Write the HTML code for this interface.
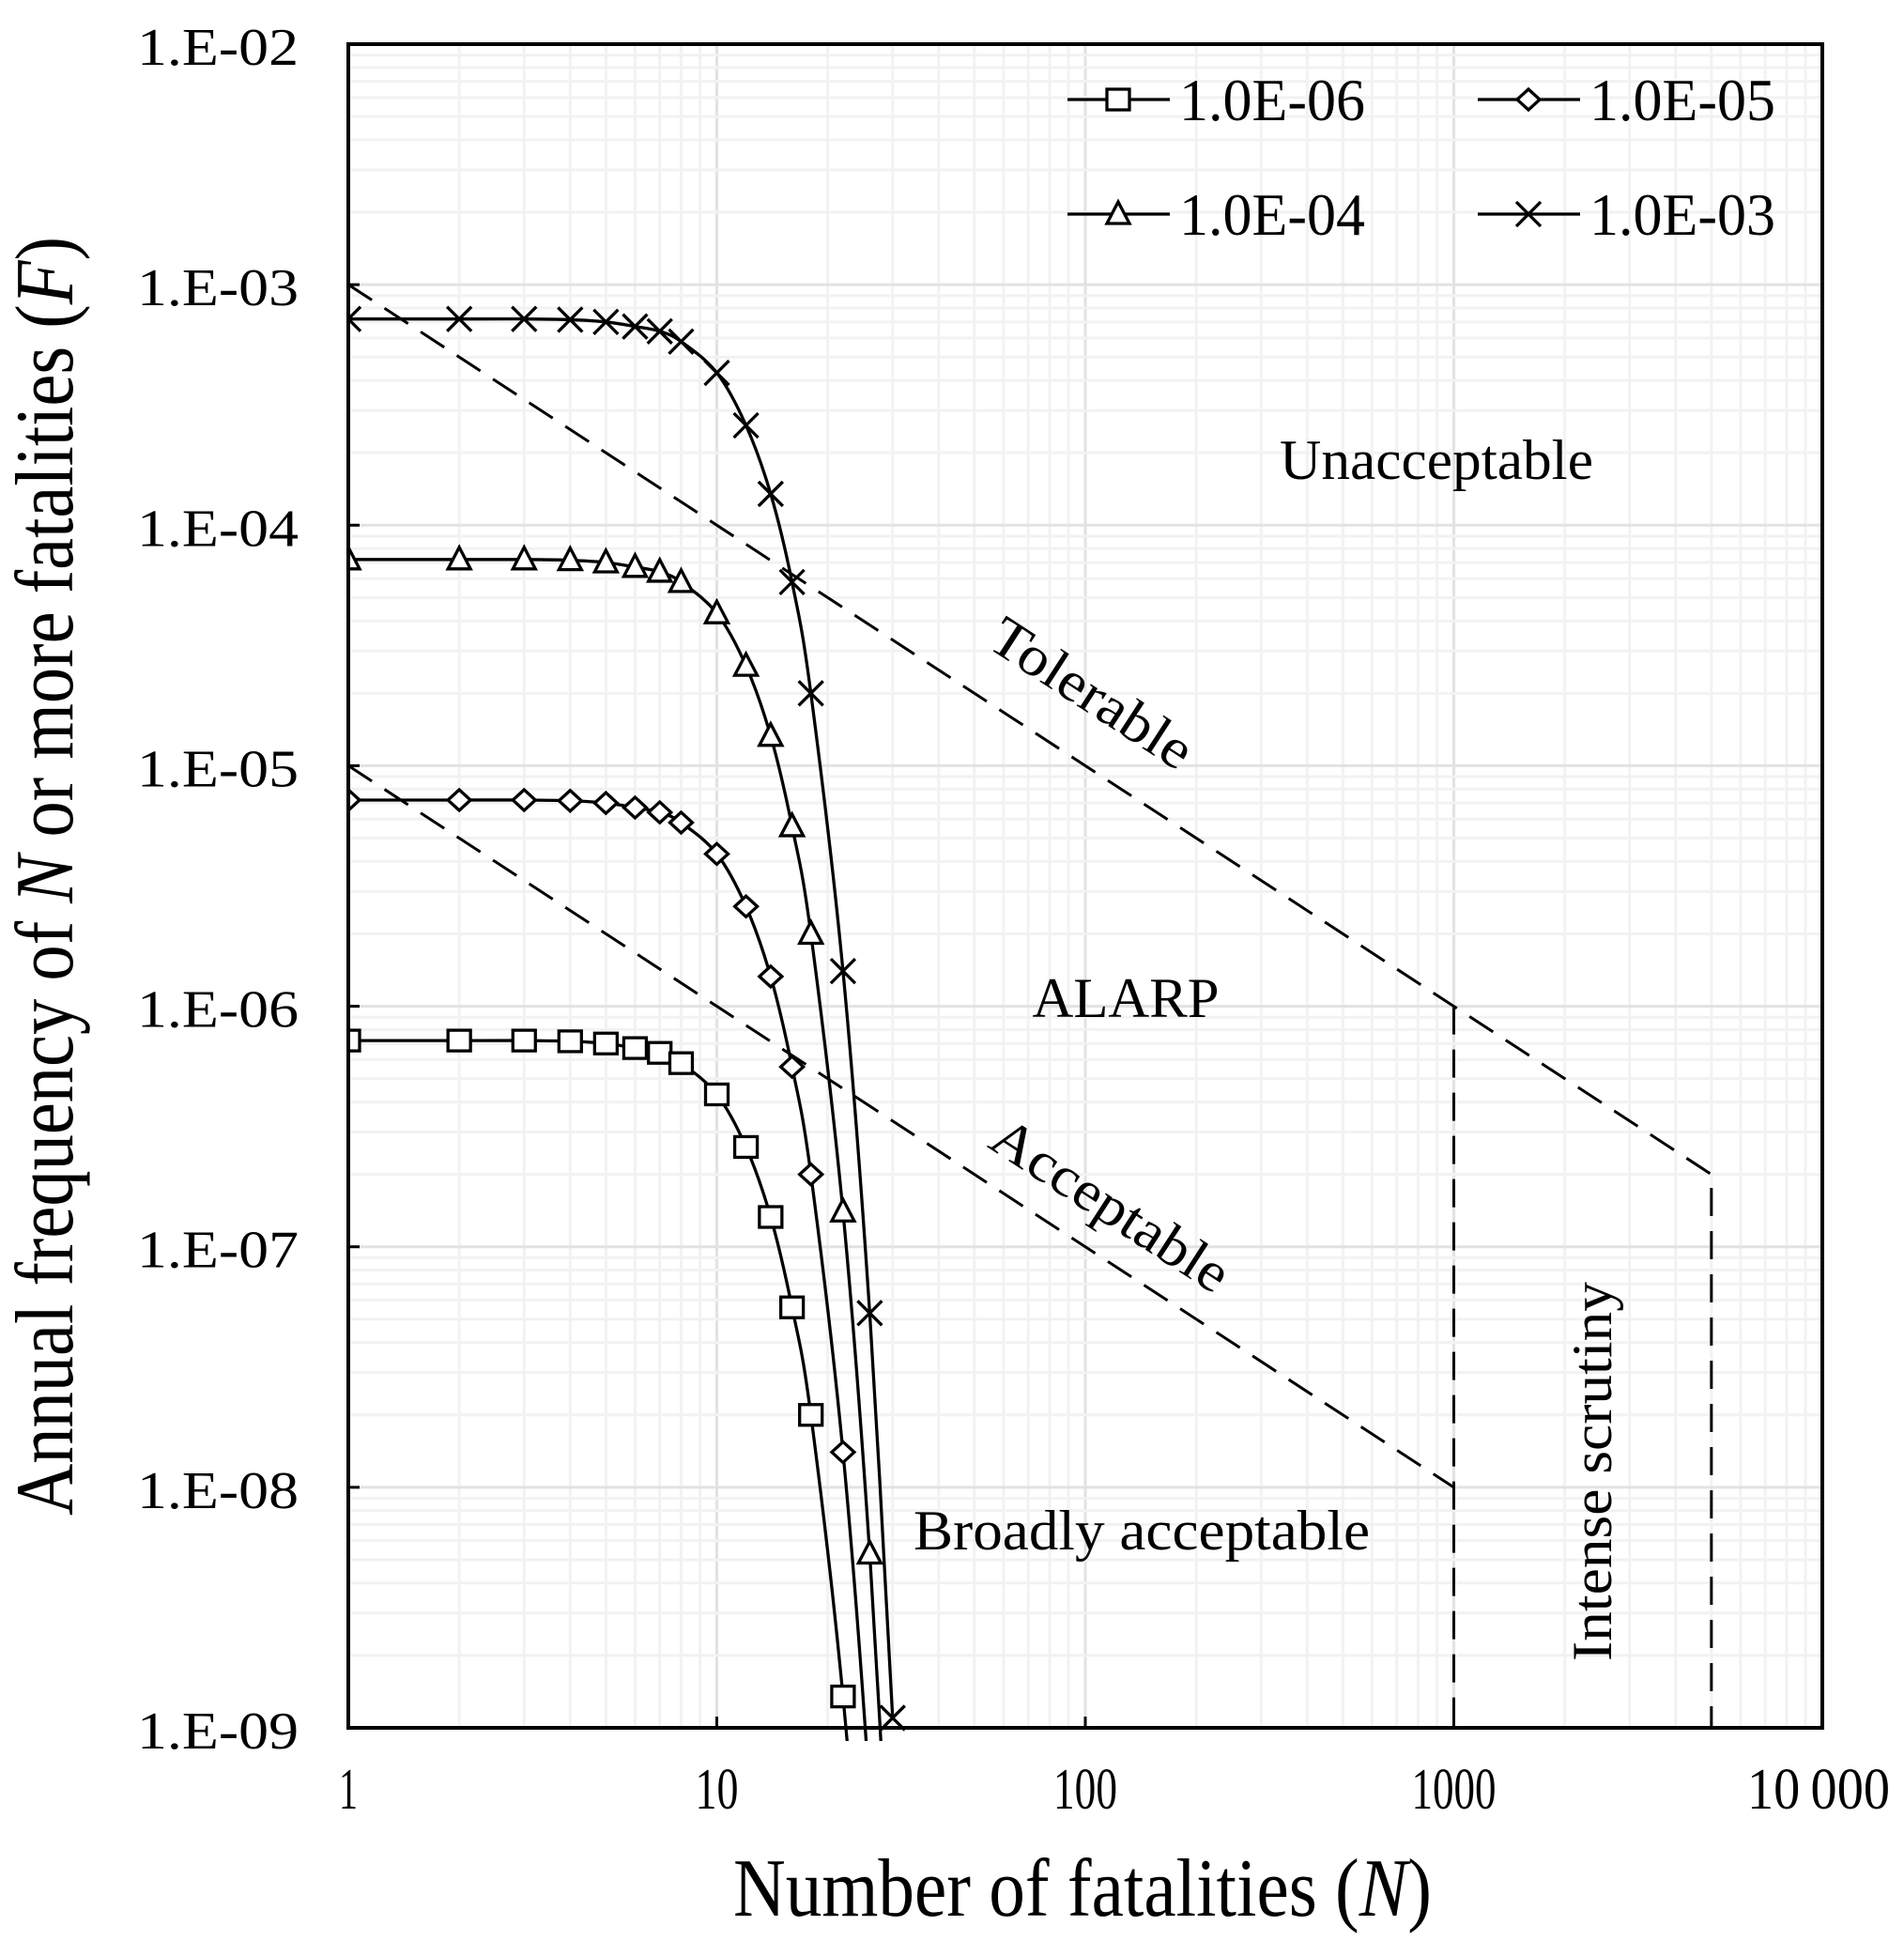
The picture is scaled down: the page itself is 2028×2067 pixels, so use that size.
<!DOCTYPE html>
<html><head><meta charset="utf-8"><style>
html,body{margin:0;padding:0;background:#fff;overflow:hidden}
svg{display:block}
text{font-family:"Liberation Serif",serif;fill:#000}
</style></head><body>
<svg id="chart" width="2028" height="2067" viewBox="0 0 2028 2067" xmlns="http://www.w3.org/2000/svg">
<g id="grid"></g>
<g id="lines"></g>
<g id="series"></g>
<rect x="371" y="47" width="1570" height="1793" fill="none" stroke="#000" stroke-width="4"/>
<g id="ticks"></g>
<text x="1153" y="2040" font-size="88" text-anchor="middle" textLength="744" lengthAdjust="spacingAndGlyphs">Number of  fatalities  (<tspan font-style="italic">N</tspan>)</text>
<text transform="translate(77,933) rotate(-90)" font-size="88" text-anchor="middle" textLength="1362" lengthAdjust="spacingAndGlyphs">Annual frequency of <tspan font-style="italic">N</tspan> or more fatalities  (<tspan font-style="italic">F</tspan>)</text>
<text x="1530" y="510" font-size="60" text-anchor="middle" textLength="334" lengthAdjust="spacingAndGlyphs">Unacceptable</text>
<text x="1199" y="1083" font-size="60" text-anchor="middle" textLength="199" lengthAdjust="spacingAndGlyphs">ALARP</text>
<text x="1216" y="1650" font-size="60" text-anchor="middle" textLength="486" lengthAdjust="spacingAndGlyphs">Broadly  acceptable</text>
<text transform="translate(1163,738) rotate(33)" y="20" font-size="60" text-anchor="middle" textLength="245" lengthAdjust="spacingAndGlyphs">Tolerable</text>
<text transform="translate(1183,1283) rotate(33)" y="20" font-size="60" text-anchor="middle" textLength="290" lengthAdjust="spacingAndGlyphs">Acceptable</text>
<text transform="translate(1716,1567) rotate(-90)" font-size="60" text-anchor="middle" textLength="404" lengthAdjust="spacingAndGlyphs">Intense  scrutiny</text>
<g id="legend"></g>
</svg>
<script>
const xs = [1,2,3,4,5,6,7,8,10,12,14,16,18,22,26,30];
const s6 = [7.2e-7,7.2e-7,7.2e-7,7.15e-7,7.0e-7,6.7e-7,6.4e-7,5.8e-7,4.3e-7,2.6e-7,1.33e-7,5.6e-8,2.0e-8,1.35e-9,5.3e-11,1.1e-12];
const s5 = [7.2e-6,7.2e-6,7.2e-6,7.15e-6,7.0e-6,6.7e-6,6.4e-6,5.8e-6,4.3e-6,2.6e-6,1.33e-6,5.6e-7,2.0e-7,1.4e-8,5.3e-10,1.1e-11];
const s4 = [7.2e-5,7.2e-5,7.2e-5,7.15e-5,7.0e-5,6.7e-5,6.4e-5,5.8e-5,4.3e-5,2.6e-5,1.33e-5,5.6e-6,2.0e-6,1.4e-7,5.3e-9,1.1e-10];
const s3 = [7.2e-4,7.2e-4,7.2e-4,7.15e-4,7.0e-4,6.7e-4,6.4e-4,5.8e-4,4.3e-4,2.6e-4,1.35e-4,5.8e-5,2.0e-5,1.4e-6,5.3e-8,1.1e-9];
const seriesNames = ["1.0E-06","1.0E-05","1.0E-04","1.0E-03"];
const markerTypes = ["square","diamond","triangle","cross"];
const yTickLabels = ["1.E-02","1.E-03","1.E-04","1.E-05","1.E-06","1.E-07","1.E-08","1.E-09"];
const xTickValues = [1,10,100,1000,10000];
const xTickLabels = ["1","10","100","1000","10\u2009000"];
const upperLineN = [1,1000,5000];
const upperLineF = [1e-3,1e-6,2e-7];
const lowerLineN = [1,1000];
const lowerLineF = [1e-5,1e-8];

const NS="http://www.w3.org/2000/svg";
const L=371,R=1941,T=47,B=1840;
function X(n){return L+Math.log10(n)/4*(R-L);}
function Y(f){return T+(-2-Math.log10(f))/7*(B-T);}
function mk(tag,attrs,parent){const e=document.createElementNS(NS,tag);for(const k in attrs)e.setAttribute(k,attrs[k]);parent.appendChild(e);return e;}

const grid=document.getElementById('grid');
for(let d=0;d<4;d++)for(let m=1;m<10;m++){const n=m*Math.pow(10,d);if(n===1)continue;
 const ln=mk('line',{x1:X(n),x2:X(n),y1:T,y2:B,stroke:m===1?'#e2e2e2':'#f2f2f2','stroke-width':3},grid);
 
 }
for(let d=-9;d<-2;d++)for(let m=1;m<10;m++){const f=m*Math.pow(10,d);
 const ln=mk('line',{x1:L,x2:R,y1:Y(f),y2:Y(f),stroke:m===1?'#e2e2e2':'#f2f2f2','stroke-width':3},grid);
 
 }

const ticks=document.getElementById('ticks');
yTickLabels.forEach((t,i)=>{const f=Math.pow(10,-2-i);
 const tx=mk('text',{x:318,y:Y(f)+22,'font-size':56,'text-anchor':'end',textLength:172,lengthAdjust:'spacingAndGlyphs'},ticks);tx.textContent=t;
 
 
 const tk=mk('line',{x1:L,x2:L+12,y1:Y(f),y2:Y(f),stroke:'#000','stroke-width':3},ticks);
 
 });
const xLens=[20,46,68,90,152];
xTickValues.forEach((n,i)=>{
 const tx=mk('text',{x:X(n)-(i===4?4:0),y:1926,'font-size':62,'text-anchor':'middle',textLength:xLens[i],lengthAdjust:'spacingAndGlyphs'},ticks);tx.textContent=xTickLabels[i];
 
 
 const tk=mk('line',{x1:X(n),x2:X(n),y1:B,y2:B-12,stroke:'#000','stroke-width':3},ticks);
 
 });

const lines=document.getElementById('lines');
function dashed(pts,name){const p=mk('polyline',{points:pts.map(q=>q.join(',')).join(' '),fill:'none',stroke:'#000','stroke-width':3,'stroke-dasharray':'30,16'},lines);
 
 }
dashed(upperLineN.map((n,i)=>[X(n),Y(upperLineF[i])]).concat([[X(5000),Y(1e-9)]]),'tolerable-limit-line');
dashed(lowerLineN.map((n,i)=>[X(n),Y(lowerLineF[i])]),'acceptable-limit-line');
dashed([[X(1000),Y(1e-6)],[X(1000),Y(1e-9)]],'intense-scrutiny-boundary');

function marker(type,x,y,g){let e;
 if(type==='square')e=mk('rect',{x:x-12,y:y-11,width:24,height:22,fill:'#fff',stroke:'#000','stroke-width':3.3},g);
 else if(type==='diamond')e=mk('polygon',{points:`${x-12},${y} ${x},${y-11} ${x+12},${y} ${x},${y+11}`,fill:'#fff',stroke:'#000','stroke-width':3.3},g);
 else if(type==='triangle')e=mk('polygon',{points:`${x-12},${y+10} ${x},${y-13} ${x+12},${y+10}`,fill:'#fff',stroke:'#000','stroke-width':3.3},g);
 else e=mk('path',{d:`M${x-13},${y-13}L${x+13},${y+13}M${x-13},${y+13}L${x+13},${y-13}`,stroke:'#000','stroke-width':3.3,fill:'none'},g);
 return e;}

const svg=document.getElementById('chart');
const cp=mk('clipPath',{id:'clip'},svg);
mk('rect',{x:L,y:T,width:R-L,height:B-T+14},cp);
const seriesG=document.getElementById('series');
[s6,s5,s4,s3].forEach((vals,si)=>{
 const g=mk('g',{'clip-path':'url(#clip)'},seriesG);
 
 
 const P=xs.map((n,i)=>[X(n),Y(vals[i])]);
 let d=`M${P[0][0]},${P[0][1]}`;
 for(let i=0;i<P.length-1;i++){const p0=P[Math.max(0,i-1)],p1=P[i],p2=P[i+1],p3=P[Math.min(P.length-1,i+2)];
  const c1=[p1[0]+(p2[0]-p0[0])/6,p1[1]+(p2[1]-p0[1])/6],c2=[p2[0]-(p3[0]-p1[0])/6,p2[1]-(p3[1]-p1[1])/6];
  d+=` C${c1[0]},${c1[1]} ${c2[0]},${c2[1]} ${p2[0]},${p2[1]}`;}
 const path=mk('path',{d:d,fill:'none',stroke:'#000','stroke-width':3.3},g);
 
 
 P.forEach(p=>{if(p[1]<=B+5){const m=marker(markerTypes[si],p[0],p[1],g);
  
  }});
});

const legend=document.getElementById('legend');
const legPos=[[1137,106],[1574,106],[1137,228],[1574,228]];
seriesNames.forEach((nm,i)=>{const [lx,ly]=legPos[i];
 const g=mk('g',{},legend);
 
 
 mk('line',{x1:lx,x2:lx+109,y1:ly,y2:ly,stroke:'#000','stroke-width':3.3},g);
 marker(markerTypes[i],lx+54,ly,g);
 const t=mk('text',{x:lx+119,y:ly+22,'font-size':64,textLength:198,lengthAdjust:'spacingAndGlyphs'},g);t.textContent=nm;
});
</script>
</body></html>
